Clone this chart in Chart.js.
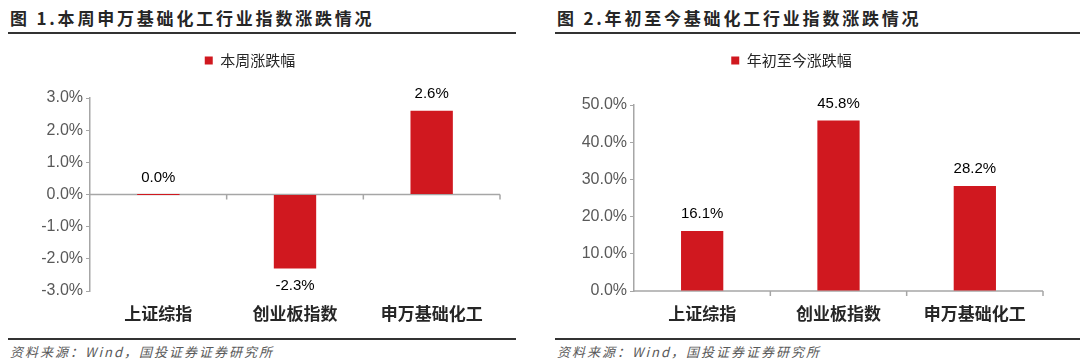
<!DOCTYPE html>
<html>
<head>
<meta charset="utf-8">
<script src="https://cdn.jsdelivr.net/npm/chart.js@4.4.1/dist/chart.umd.min.js"></script>
<style>
  html, body { margin: 0; padding: 0; background: #fff; }
  body { width: 1080px; height: 363px; position: relative; overflow: hidden; font-family: 'Noto Sans CJK SC', sans-serif; }
  .title { position: absolute; top: 5px; font-size: 17px; font-weight: bold; letter-spacing: 2.8px; color: #262626; line-height: 26px; white-space: nowrap; }
  .rule { position: absolute; height: 2px; background: #333; }
  .box { position: absolute; top: 43px; width: 540px; height: 287px; }
  .src { position: absolute; top: 343px; font-size: 13px; font-style: italic; color: #595959; letter-spacing: 2px; line-height: 18px; white-space: nowrap; }
</style>
</head>
<body>
<div class="title" style="left:10px">图 1.本周申万基础化工行业指数涨跌情况</div>
<div class="rule" style="left:8px; width:508px; top:32px"></div>
<div class="box" style="left:0"><canvas id="weekChart"></canvas></div>
<div class="rule" style="left:8px; width:508px; top:338px"></div>
<div class="src" style="left:10px">资料来源：Wind，国投证券证券研究所</div>

<div class="title" style="left:557px">图 2.年初至今基础化工行业指数涨跌情况</div>
<div class="rule" style="left:555px; width:525px; top:32px"></div>
<div class="box" style="left:540px"><canvas id="ytdChart"></canvas></div>
<div class="rule" style="left:555px; width:525px; top:338px"></div>
<div class="src" style="left:557px">资料来源：Wind，国投证券证券研究所</div>

<script>
const categories = ['上证综指', '创业板指数', '申万基础化工'];
const weekLabel = '本周涨跌幅';
const weekValues = [0.0, -2.3, 2.6];
const ytdLabel = '年初至今涨跌幅';
const ytdValues = [16.1, 45.8, 28.2];
const weekAxis = { min: -3, max: 3, step: 1 };
const ytdAxis = { min: 0, max: 50, step: 10 };

const RED = '#D0181F';
const AXIS = '#A6A6A6';
const CJK = "'Noto Sans CJK SC', sans-serif";

// extra room between the legend and the plot
const legendGap = {
    id: 'legendGap',
    afterInit(chart, args, opts) {
        const legend = chart.legend;
        const fit = legend.fit.bind(legend);
        legend.fit = function () {
            fit();
            this.height += opts.gap || 0;
        };
    }
};

// horizontal axis line at zero with category boundary ticks
const zeroAxis = {
    id: 'zeroAxis',
    beforeDatasetsDraw(chart) {
        const { ctx, chartArea, scales } = chart;
        const y0 = scales.y.getPixelForValue(0);
        ctx.save();
        ctx.strokeStyle = AXIS;
        ctx.lineWidth = 1.5;
        ctx.beginPath();
        ctx.moveTo(chartArea.left, y0);
        ctx.lineTo(chartArea.right, y0);
        for (let i = 0; i < chart.data.labels.length; i++) {
            const x = scales.x.getPixelForValue(i + 0.5);
            ctx.moveTo(x, y0);
            ctx.lineTo(x, y0 + 5);
        }
        ctx.stroke();
        ctx.restore();
    }
};

// value labels above / below each bar
const valueLabels = {
    id: 'valueLabels',
    afterDatasetsDraw(chart) {
        const { ctx, scales } = chart;
        const meta = chart.getDatasetMeta(0);
        const data = chart.data.datasets[0].data;
        const y0 = scales.y.getPixelForValue(0);
        ctx.save();
        ctx.font = "15px 'Liberation Sans', Arial, sans-serif";
        ctx.fillStyle = '#000';
        ctx.textAlign = 'center';
        ctx.textBaseline = 'middle';
        meta.data.forEach((bar, i) => {
            const v = data[i];
            const y = v >= 0 ? Math.min(bar.y, y0) - 17 : bar.y + 17;
            ctx.fillText(v.toFixed(1) + '%', bar.x, y);
        });
        ctx.restore();
    }
};

function makeChart(id, label, values, axis, axisWidth, padRight, gap) {
    const ctx = document.getElementById(id).getContext('2d');
    return new Chart(ctx, {
        type: 'bar',
        data: {
            labels: categories,
            datasets: [{
                label: label,
                data: values,
                backgroundColor: RED,
                borderWidth: 0,
                minBarLength: 1,
                barPercentage: 0.31,
                categoryPercentage: 1
            }]
        },
        options: {
            responsive: true,
            maintainAspectRatio: false,
            animation: false,
            layout: { padding: { top: 0, right: padRight, bottom: 0, left: 0 } },
            scales: {
                x: {
                    grid: { display: false },
                    border: { display: false },
                    ticks: {
                        color: '#262626',
                        font: { family: CJK, size: 17, weight: 'bold' },
                        padding: 4
                    },
                    afterFit(scale) { scale.height = 39; }
                },
                y: {
                    min: axis.min,
                    max: axis.max,
                    border: { color: AXIS, width: 1.5 },
                    grid: { drawOnChartArea: false, color: AXIS, tickLength: 4 },
                    ticks: {
                        stepSize: axis.step,
                        color: '#595959',
                        font: { family: "'Liberation Sans', Arial, sans-serif", size: 16 },
                        padding: 3,
                        callback: v => v.toFixed(1) + '%'
                    },
                    afterFit(scale) { scale.width = axisWidth; }
                }
            },
            plugins: {
                legend: {
                    position: 'top',
                    labels: {
                        boxWidth: 8,
                        boxHeight: 8,
                        color: '#262626',
                        font: { family: CJK, size: 15 },
                        padding: 10
                    }
                },
                legendGap: { gap: gap },
                tooltip: { enabled: false }
            }
        },
        plugins: [legendGap, zeroAxis, valueLabels]
    });
}

makeChart('weekChart', weekLabel, weekValues, weekAxis, 90, 40, 20);
makeChart('ytdChart', ytdLabel, ytdValues, ytdAxis, 94, 37, 27);
</script>
</body>
</html>
